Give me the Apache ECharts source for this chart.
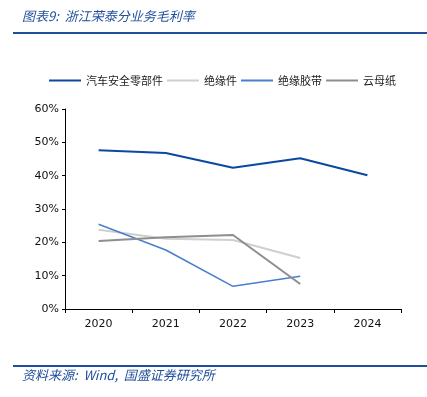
<!DOCTYPE html>
<html>
<head>
<meta charset="utf-8">
<script src="https://cdn.jsdelivr.net/npm/echarts@6/dist/echarts.min.js"></script>
<style>
  html, body { margin: 0; padding: 0; background: #fff; }
  #main { width: 427px; height: 397px; }
</style>
</head>
<body>
<div id="main"></div>
<script>
  // data
  var years = ['2020', '2021', '2022', '2023', '2024'];
  var autoParts = [47.6, 46.8, 42.4, 45.2, 40.1];
  var insulation = [23.8, 21.1, 20.7, 15.3, null];
  var tape = [25.4, 17.7, 6.8, 9.8, null];
  var mica = [20.4, 21.5, 22.2, 7.5, null];
  var yTicks = [0, 10, 20, 30, 40, 50, 60];

  var font = '"DejaVu Sans", "Noto Sans CJK SC", sans-serif';
  var cnFont = '"Noto Sans CJK SC", sans-serif';

  var chart = echarts.init(document.getElementById('main'));

  function line(name, data, color, width) {
    return {
      name: name,
      type: 'line',
      data: data,
      symbol: 'none',
      connectNulls: false,
      lineStyle: { color: color, width: width },
      itemStyle: { color: color }
    };
  }

  var option = {
    animation: false,
    backgroundColor: '#fff',
    graphic: [
      {
        type: 'text', left: 22, top: 10,
        style: { text: '图表9:  浙江荣泰分业务毛利率', font: 'italic 13px ' + cnFont, fill: '#1F4E9B' }
      },
      {
        type: 'rect', shape: { x: 13, y: 32, width: 414, height: 2 },
        style: { fill: '#1F4E9B' }
      },
      {
        type: 'rect', shape: { x: 13, y: 365, width: 414, height: 2 },
        style: { fill: '#1F4E9B' }
      },
      {
        type: 'text', left: 22, top: 369,
        style: { text: '资料来源:  Wind,  国盛证券研究所', font: 'italic 13px ' + cnFont, fill: '#1F4E9B' }
      }
    ],
    legend: {
      top: 70,
      left: 44,
      itemWidth: 32,
      itemHeight: 2,
      itemGap: 4,
      icon: 'rect',
      textStyle: { fontSize: 11, fontFamily: cnFont, color: '#222' },
      data: ['汽车安全零部件', '绝缘件', '绝缘胶带', '云母纸']
    },
    grid: { left: 65, right: 26, top: 109, bottom: 88 },
    xAxis: {
      type: 'category',
      data: years,
      boundaryGap: true,
      axisLine: { lineStyle: { color: '#000', width: 1 } },
      axisTick: { show: true, length: 4, lineStyle: { color: '#000' } },
      axisLabel: { fontSize: 11, fontFamily: font, color: '#111', margin: 10 }
    },
    yAxis: {
      type: 'value',
      min: yTicks[0],
      max: yTicks[yTicks.length - 1],
      interval: 10,
      splitLine: { show: false },
      axisLine: { show: true, lineStyle: { color: '#000', width: 1 } },
      axisTick: { show: true, length: 3, lineStyle: { color: '#000' } },
      axisLabel: { fontSize: 11, fontFamily: font, color: '#111', margin: 6, formatter: '{value}%' }
    },
    series: [
      line('汽车安全零部件', autoParts, '#0B48A0', 2),
      line('绝缘件', insulation, '#CFCFCF', 2),
      line('绝缘胶带', tape, '#4A7FCC', 1.6),
      line('云母纸', mica, '#8E8E8E', 2)
    ]
  };

  chart.setOption(option);
</script>
</body>
</html>
